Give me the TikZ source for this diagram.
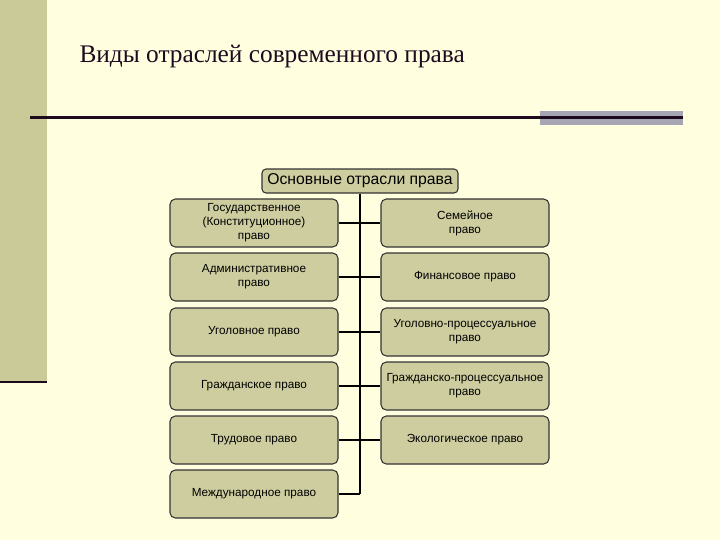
\documentclass[tikz,border=0pt]{standalone}
\usepackage{fontspec}
\setmainfont{Liberation Serif}
\newfontfamily\boxfont{Liberation Sans}

\definecolor{slidebg}{RGB}{255,255,224}
\definecolor{sidebar}{RGB}{202,202,152}
\definecolor{boxfill}{RGB}{206,205,160}
\definecolor{darkline}{RGB}{30,10,30}
\definecolor{greybar}{RGB}{165,165,180}

\tikzset{every picture/.style={line width=0.75pt}}
\tikzset{
  branchbox/.style={draw=black!80, fill=boxfill, rounded corners=4pt, line width=0.8pt,
    minimum width=126pt, minimum height=36pt, align=center, inner sep=1pt,
    font=\boxfont\fontsize{8.8}{10.5}\selectfont},
  headbox/.style={draw=black!80, fill=boxfill, rounded corners=3pt, line width=0.8pt,
    minimum width=147pt, minimum height=18pt, inner sep=1pt,
    font=\boxfont\fontsize{11.8}{13}\selectfont},
  joint/.style={line width=1.5pt, draw=black}
}

\begin{document}
\begin{tikzpicture}[x=0.75pt,y=0.75pt,yscale=-1,xscale=1]
\useasboundingbox (0,0) rectangle (720,540);

% background and slide decoration
\fill [slidebg] (0,0) rectangle (720,540);
\fill [sidebar] (0,0) rectangle (47,381);
\draw [line width=2.2pt, darkline] (0,382) -- (47,382);
\fill [greybar] (540,111) rectangle (683,125);
\draw [line width=1.6pt, darkline] (30,117.5) -- (683,117.5);

% Title
\draw (78,57) node [anchor=west][inner sep=0.75pt] [font=\fontsize{19}{22}\selectfont, color=darkline] {Виды отраслей современного права};

% Header
\node [headbox] (hdr) at (360,181) {Основные отрасли права};

% Left column
\node [branchbox] (gos) at (254,223) {Государственное\\(Конституционное)\\право};
\node [branchbox] (adm) at (254,277) {Административное\\право};
\node [branchbox] (ugol) at (254,332) {Уголовное право};
\node [branchbox] (grazh) at (254,386) {Гражданское право};
\node [branchbox] (trud) at (254,440) {Трудовое право};
\node [branchbox] (mezhd) at (254,494) {Международное право};

% Right column
\node [branchbox] (sem) at (465,223) {Семейное\\право};
\node [branchbox] (fin) at (465,277) {Финансовое право};
\node [branchbox] (ugproc) at (465,332) {Уголовно-процессуальное\\право};
\node [branchbox] (grproc) at (465,386) {Гражданско-процессуальное\\право};
\node [branchbox] (ekol) at (465,440) {Экологическое право};

% Trunk and branches
\coordinate (trunkend) at (hdr.south |- mezhd.east);
\draw [joint] (hdr.south) -- (trunkend);
\draw [joint] (gos.east) -- (sem.west);
\draw [joint] (adm.east) -- (fin.west);
\draw [joint] (ugol.east) -- (ugproc.west);
\draw [joint] (grazh.east) -- (grproc.west);
\draw [joint] (trud.east) -- (ekol.west);
\draw [joint] (mezhd.east) -- (trunkend);

\end{tikzpicture}
\end{document}
